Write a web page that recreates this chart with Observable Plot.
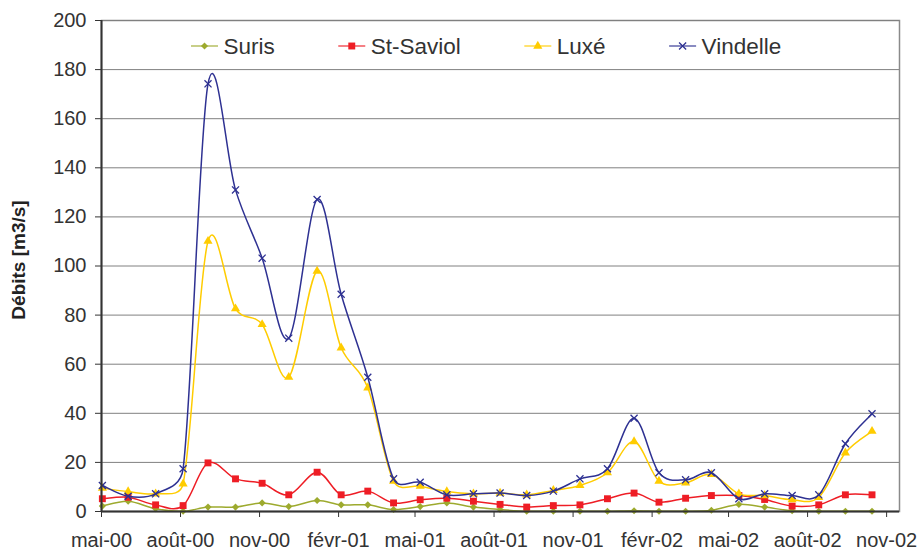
<!DOCTYPE html>
<html><head><meta charset="utf-8">
<script src="https://cdn.jsdelivr.net/npm/d3@7"></script>
<script src="https://cdn.jsdelivr.net/npm/@observablehq/plot@0.6"></script>
<style>
body{margin:0;background:#fff;}
#chart{width:919px;height:550px;position:relative;}
</style></head><body><div id="chart"></div>
<script>
// ---- data ----
const dates = ["2000-05-02","2000-06-01","2000-07-03","2000-08-04","2000-09-02","2000-10-04","2000-11-04","2000-12-05",
  "2001-01-07","2001-02-04","2001-03-07","2001-04-06","2001-05-07","2001-06-07","2001-07-08","2001-08-08","2001-09-08","2001-10-09","2001-11-09","2001-12-11",
  "2002-01-11","2002-02-09","2002-03-12","2002-04-11","2002-05-13","2002-06-12","2002-07-14","2002-08-14","2002-09-14","2002-10-15"];
const suris    = [2.2,4.2,1.1,0.1,1.8,1.8,3.5,2.0,4.5,2.7,2.7,0.8,2.0,3.5,1.8,0.8,0.1,0.1,0.1,0.1,0.3,0.1,0.1,0.5,2.9,1.8,0.3,0.1,0.1,0.1];
const stSaviol = [5.2,5.8,2.7,2.4,19.8,13.3,11.5,6.8,16.0,6.8,8.3,3.5,4.8,5.4,4.2,2.9,1.8,2.4,2.7,5.2,7.5,3.8,5.4,6.5,6.5,4.9,2.2,2.7,6.8,6.8];
const luxe     = [9.5,8.1,7.2,11.3,110.1,82.6,76.2,54.7,97.9,66.7,50.4,12.4,10.3,8.1,7.2,7.5,6.8,8.6,10.6,15.8,28.5,12.4,11.7,15.1,7.2,6.5,4.8,5.8,23.9,32.7];
const vindelle = [10.6,6.2,7.2,17.4,174.2,131.0,103.2,70.6,127.1,88.5,54.7,13.3,11.9,6.8,7.2,7.5,6.5,8.3,13.3,17.4,38.0,15.8,12.9,15.8,5.2,7.2,6.5,6.8,27.6,39.8];

const seriesNames   = ["Suris","St-Saviol","Luxé","Vindelle"];
const seriesColors  = ["#9DAA2E","#EE1D25","#FFCC00","#2E3192"];
const seriesSymbols = ["diamond2","square","triangle","times"];

const xTickDates  = ["2000-05-01","2000-08-01","2000-11-01","2001-02-01","2001-05-01","2001-08-01","2001-11-01","2002-02-01","2002-05-01","2002-08-01","2002-11-01"];
const xTickLabels = ["mai-00","août-00","nov-00","févr-01","mai-01","août-01","nov-01","févr-02","mai-02","août-02","nov-02"];
const yTicks = [0,20,40,60,80,100,120,140,160,180,200];
const yLabel = "Débits [m3/s]";

// ---- spreadsheet-style smoothed line (Bezier, arms limited to half a segment) ----
function SmoothCurve(context) { this._context = context; }
SmoothCurve.prototype = {
  areaStart() {}, areaEnd() {},
  lineStart() { this._pts = []; },
  point(x, y) { this._pts.push([+x, +y]); },
  lineEnd() {
    const p = this._pts, c = this._context, n = p.length;
    if (!n) return;
    c.moveTo(p[0][0], p[0][1]);
    const f = 1 / 6;
    const dist = (a, b) => Math.hypot(a[0] - b[0], a[1] - b[1]);
    for (let i = 0; i < n - 1; i++) {
      const p0 = p[i - 1] || p[i], p1 = p[i], p2 = p[i + 1], p3 = p[i + 2] || p[i + 1];
      const d12 = dist(p1, p2), d02 = dist(p0, p2), d13 = dist(p1, p3);
      let f1 = f, f2 = f;
      if (d02 * f > d12 / 2 && d02 > 0) f1 = d12 / 2 / d02;
      if (d13 * f > d12 / 2 && d13 > 0) f2 = d12 / 2 / d13;
      const b1 = [p1[0] + (p2[0] - p0[0]) * f1, p1[1] + (p2[1] - p0[1]) * f1];
      const b2 = [p2[0] - (p3[0] - p1[0]) * f2, p2[1] - (p3[1] - p1[1]) * f2];
      c.bezierCurveTo(b1[0], b1[1], b2[0], b2[1], p2[0], p2[1]);
    }
  }
};
const smoothCurve = context => new SmoothCurve(context);

// ---- build ----
const parse = d3.utcParse("%Y-%m-%d");
const valuesBySeries = [suris, stSaviol, luxe, vindelle];
const rows = seriesNames.flatMap((name, i) => dates.map((d, j) => ({series: name, date: parse(d), value: valuesBySeries[i][j]})));
const tickDates = xTickDates.map(parse);
const fmt = d => xTickLabels[tickDates.findIndex(t => +t === +d)];
const font = "'Liberation Sans', Arial, Helvetica, sans-serif";
const symR = {diamond2: 3.2, square: 3.9, triangle: 3.4, times: 3.3};

const seriesMarks = seriesNames.flatMap((name, i) => {
  const data = rows.filter(r => r.series === name);
  const sym = seriesSymbols[i];
  const isStroke = sym === "times";
  return [
    Plot.line(data, {x: "date", y: "value", stroke: seriesColors[i], strokeWidth: 1.5, curve: smoothCurve}),
    Plot.dot(data, {x: "date", y: "value", symbol: () => sym, r: symR[sym],
      fill: isStroke ? "none" : seriesColors[i],
      stroke: isStroke ? seriesColors[i] : "none",
      strokeWidth: isStroke ? 1.3 : 0})
  ];
});

const svg = Plot.plot({
  width: 919, height: 550,
  marginLeft: 101, marginRight: 20, marginTop: 20, marginBottom: 39,
  style: {fontFamily: font, fontSize: "20px", color: "#333", background: "#fff"},
  x: {type: "utc", domain: [parse("2000-05-01"), parse("2002-11-16")]},
  y: {domain: [0, 200]},
  marks: [
    Plot.frame({stroke: "#8a8a8a", strokeWidth: 1.5}),
    Plot.gridY(yTicks, {stroke: "#808080", strokeOpacity: 1, strokeWidth: 1}),
    Plot.axisY(yTicks, {tickSize: 6, tickPadding: 9, fontSize: 20, label: null, color: "#333"}),
    Plot.axisX(tickDates, {tickSize: 6, tickPadding: 15, tickFormat: fmt, fontSize: 20, label: null, color: "#333"}),
    Plot.text([yLabel], {frameAnchor: "left", textAnchor: "middle", dx: -83, dy: -6, rotate: -90, fontWeight: "bold", fontSize: 19, fill: "#222"}),
    ...seriesMarks,
    Plot.ruleY([0], {stroke: "#333", strokeWidth: 2}),
    Plot.ruleX([parse("2000-05-01")], {stroke: "#333", strokeWidth: 2})
  ]
});
document.getElementById("chart").appendChild(svg);

// ---- legend (inside the plot area, top) ----
const lg = d3.select(svg).append("g").attr("font-family", font).attr("font-size", 22.5)
  .attr("fill", "#333").attr("text-anchor", "start");
let xpos = 191;
const ly = 46;
seriesNames.forEach((name, i) => {
  const g = lg.append("g");
  g.append("line").attr("x1", xpos).attr("x2", xpos + 27).attr("y1", ly).attr("y2", ly)
    .attr("stroke", seriesColors[i]).attr("stroke-width", 1.5).attr("stroke-opacity", 0.75);
  const sym = seriesSymbols[i];
  const d3sym = {diamond2: d3.symbolDiamond2, square: d3.symbolSquare, triangle: d3.symbolTriangle, times: d3.symbolTimes}[sym];
  const isStroke = sym === "times";
  g.append("path").attr("d", d3.symbol(d3sym, Math.PI * symR[sym] * symR[sym])())
    .attr("transform", `translate(${xpos + 13.5},${ly})`)
    .attr("fill", isStroke ? "none" : seriesColors[i])
    .attr("stroke", isStroke ? seriesColors[i] : "none")
    .attr("stroke-width", isStroke ? 1.3 : 0);
  const t = g.append("text").attr("x", xpos + 32.5).attr("y", ly).attr("dy", "0.35em").text(name);
  const w = t.node().getComputedTextLength();
  xpos = xpos + 32.5 + w + 63.5;
});
</script>
</body></html>
